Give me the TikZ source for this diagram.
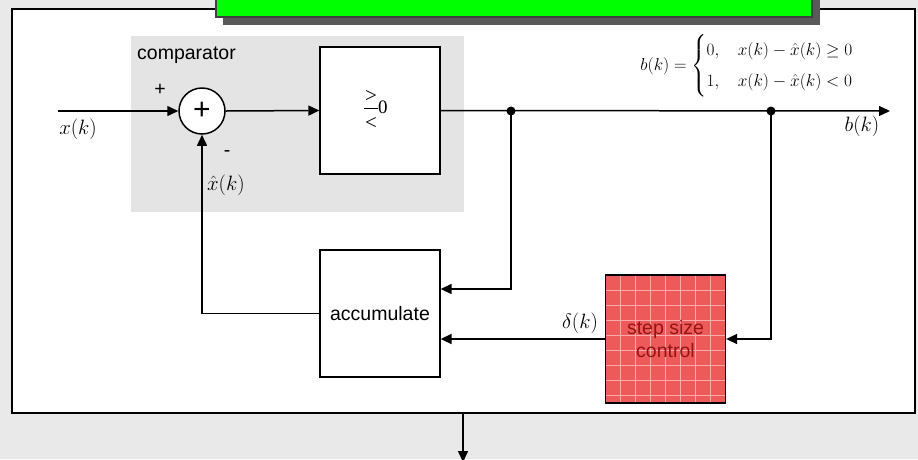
\documentclass[tikz,border=0pt]{standalone}
\usepackage{amsmath}
\usepackage{fontspec}
\setmainfont{Liberation Sans}
\newfontfamily\serifrm{Liberation Serif}
\usetikzlibrary{arrows.meta}
\definecolor{bgray}{RGB}{233,233,233}
\definecolor{cgray}{RGB}{228,228,228}
\definecolor{tgreen}{RGB}{0,255,0}
\definecolor{sred}{RGB}{238,90,90}
\definecolor{sgrid}{RGB}{250,170,170}
\definecolor{stext}{RGB}{150,20,20}
\begin{document}
\begin{tikzpicture}[x=1pt,y=-1pt,
  blk/.style={draw,line width=1.3pt,fill=white,minimum width=120pt,minimum height=127pt,inner sep=0pt,font=\fontsize{19.5}{22}\selectfont},
  conn/.style={line width=1.5pt},
  tip/.style={-{Triangle[length=11pt,width=10pt]}},
  lbl/.style={font=\fontsize{20}{24}\selectfont,inner sep=0pt},
  sans/.style={font=\fontsize{19.5}{22}\selectfont,inner sep=0pt}]
\useasboundingbox (0,0) rectangle (918,459);
\fill[bgray] (0,0) rectangle (918,459);
% main frame
\node[draw,line width=2pt,fill=white,minimum width=903pt,minimum height=404pt,inner sep=0pt] (frame) at (463.5,211) {};
% title bar
\fill[black!65] (223,-10) rectangle (820,25);
\node[draw=black!75,line width=1.3pt,fill=tgreen,minimum width=596pt,minimum height=27pt,inner sep=0pt] (title) at (514,3.5) {};
% comparator panel
\node[fill=cgray,minimum width=333pt,minimum height=176pt,inner sep=0pt] (panel) at (297.5,124) {};
\node[sans,anchor=west] (cmplbl) at (137,55) {comparator};
% blocks
\node[blk] (cmp) at (380,110.5) {};
\node[font=\serifrm\fontsize{21}{22}\selectfont,inner sep=0pt] (gt) at (371,96) {>};
\node[font=\serifrm\fontsize{21}{22}\selectfont,inner sep=0pt] (lt) at (371,123) {<};
\draw[line width=0.9pt] (364,108) coordinate (barl) -- (378,108) coordinate (barr);
\node[font=\serifrm\fontsize{19}{20}\selectfont,inner sep=0pt,anchor=west] (zero) at (378,107) {0};
\node[blk] (acc) at (380,313.5) {accumulate};
\fill[sred] (605.5,275) rectangle (725.5,403);
\begin{scope}
\clip (605.5,275) rectangle (725.5,403);
\foreach \i in {0,...,8}{
  \draw[sgrid,line width=0.8pt] (605.5+15*\i,275) -- (605.5+15*\i,403);
  \draw[sgrid,line width=0.8pt] (605.5,275+15*\i) -- (725.5,275+15*\i);
}
\end{scope}
\node[draw,line width=1.3pt,minimum width=120pt,minimum height=128pt,inner sep=0pt,align=center,text=stext,font=\fontsize{19.5}{26}\selectfont] (step) at (665.5,339) {\raisebox{-2pt}{\shortstack{step size\\[2pt]control}}};
% summing junction
\node[circle,draw,line width=1.5pt,fill=white,minimum size=46pt,inner sep=0pt,font=\fontsize{30}{30}\selectfont] (sum) at (202,111) {+};
\node[sans] (plus) at (160,90) {+};
\node[sans] (minus) at (227,154) {-};
% connectors
\coordinate (in) at (58,111);
\coordinate (out) at (890,111);
\coordinate (j1) at (511,111);
\coordinate (j2) at (771,111);
\coordinate (c1) at (511,289);
\coordinate (c2) at (771,339);
\coordinate (bt) at (463,413);
\coordinate (bb) at (463,462);
\draw[conn,tip] (in) -- (sum.west);
\draw[conn,tip] (sum.east) -- (cmp.west);
\draw[conn,tip] (cmp.east) -- (out);
\fill (j1) circle (4.5pt);
\fill (j2) circle (4.5pt);
\draw[conn,tip] (j1) -- (c1) -- (c1 -| acc.east);
\draw[conn,tip] (j2) -- (c2) -- (step.east);
\draw[conn,tip] (step.west) -- (step.west -| acc.east);
\draw[conn,tip] (acc.west) -| (sum.south);
\draw[conn,tip] (bt) -- (bb);
% labels
\node[lbl] (xk) at (78,129) {$x(k)$};
\node[lbl,anchor=west] (xhk) at (207,185) {$\hat{x}(k)$};
\node[lbl] (bk) at (862,126) {$b(k)$};
\node[lbl] (dk) at (580,323) {$\delta(k)$};
\node[font=\fontsize{18.5}{22}\selectfont,inner sep=0pt] (eq) at (747,66) {$b(k)=\begin{cases}0, & x(k)-\hat{x}(k)\geq 0\\[5pt] 1, & x(k)-\hat{x}(k)<0\end{cases}$};
\end{tikzpicture}
\end{document}
